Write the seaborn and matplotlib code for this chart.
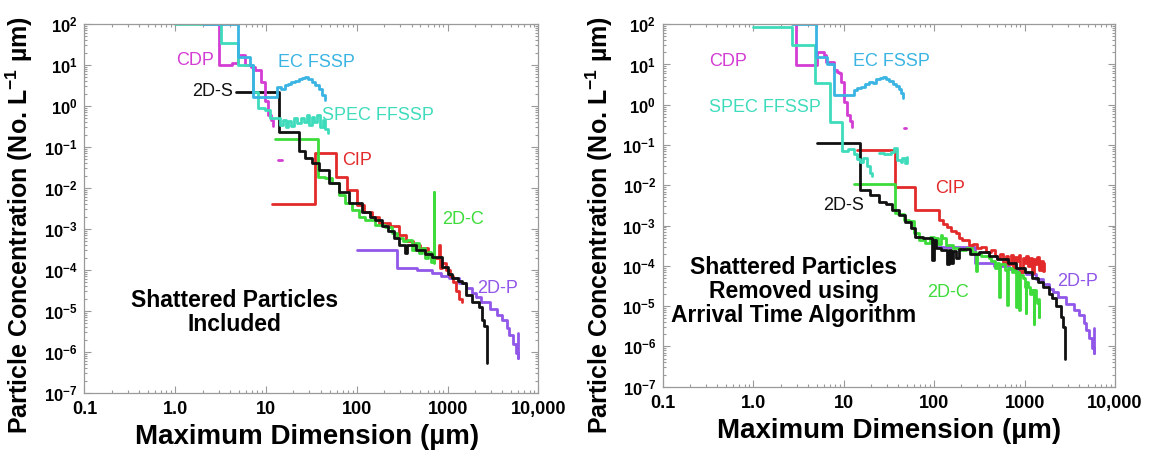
import numpy as np
import matplotlib
matplotlib.use("Agg")
import matplotlib.pyplot as plt
from matplotlib.ticker import FixedLocator, FixedFormatter, LogLocator, NullFormatter
import seaborn as sns

# ---- values (size in um, concentration in No. L-1 um-1) ----
# left panel : shattered particles included
cdp_l_x = [3.0, 3.0, 4.2, 4.9, 5.9, 6.8, 7.5, 8.9, 9.7, 10.6, 11.3, 12.0]
cdp_l_y = [100, 10, 11, 18, 10, 9, 7.6, 3.9, 1.3, 0.6, 0.45, 0.32]
cdp_l_dash_x = [13.5, 15.0]
cdp_l_dash_y = [0.048, 0.048]

ec_l_x = [2.0, 4.9, 6.7, 7.2, 13.1, 14.5, 16, 17.5, 19, 21, 23, 25, 27, 29, 32, 35, 38, 41, 45]
ec_l_y = [100, 16, 10, 1.7, 2.9, 2.6, 3.2, 3.4, 3.8, 4.0, 4.6, 4.9, 5.2, 4.5, 3.8, 3.2, 2.6, 1.9, 1.4]

spec_l_x = [1.0, 3.2, 4.9, 6.7, 7.2, 8.2, 9.7, 11, 14.2, 15.5, 16.5, 17.5, 19, 20.5, 22,
            24, 26, 28, 30, 32, 34, 36, 39, 42, 45, 48]
spec_l_y = [100, 35, 10, 10, 2.2, 0.88, 0.8, 0.5, 0.35, 0.45, 0.3, 0.42, 0.33, 0.5, 0.38,
            0.52, 0.4, 0.6, 0.35, 0.55, 0.4, 0.6, 0.3, 0.45, 0.28, 0.22]

s2d_l_x = [4.7, 14, 23, 27, 32, 38, 49, 63, 81, 114, 140, 160, 190, 223, 255, 290, 340, 355,
           450, 560, 680, 870, 1000, 1120, 1300, 1450, 1580, 1870, 2220, 2420, 2500, 2740]
s2d_l_y = [2.16, 0.23, 0.078, 0.054, 0.04, 0.027, 0.013, 0.0082, 0.0042, 0.0026, 0.002,
           0.0017, 0.0012, 0.0009, 0.0006, 0.0004, 0.00026, 0.0004, 0.0003, 0.00025, 0.00021,
           0.00012, 8e-5, 6.3e-5, 5.5e-5, 4.8e-5, 2.4e-5, 1.7e-5, 1.27e-5, 6e-6, 4.2e-6, 5.4e-7]

g2d_l_x = [12.5, 37, 45, 53, 63, 74, 89, 105, 124, 160, 206, 245, 280, 320, 360, 400, 440,
           480, 520, 570, 610, 650, 705, 712]
g2d_l_y = [0.16, 0.019, 0.0174, 0.013, 0.0068, 0.0043, 0.0029, 0.002, 0.00166, 0.00125,
           0.00115, 0.0008, 0.0006, 0.0005, 0.00055, 0.0003, 0.00045, 0.00026, 0.00035, 0.0002,
           0.00028, 0.00016, 0.008, 0.00015]

cip_l_x = [11.5, 35, 59, 77.6, 100, 119, 148, 175, 230, 290, 350, 420, 500, 600, 700, 800,
           815, 870, 950, 1050, 1150, 1250, 1350, 1450]
cip_l_y = [0.0041, 0.07, 0.019, 0.0089, 0.0039, 0.0026, 0.002, 0.0014, 0.0012, 0.0007, 0.0005,
           0.0004, 0.00035, 0.00025, 0.0002, 0.0004, 0.00011, 0.00015, 0.0001, 7e-5, 5e-5, 3e-5,
           2e-5, 1.7e-5]

# 2D-P is the same in both panels
p2d_x = [100, 280, 463, 680, 850, 1036, 1335, 1580, 1860, 2050, 2330, 2900, 3500, 4000,
         4500, 4800, 5200, 5600, 5900, 5900]
p2d_y = [0.0003, 0.000115, 1e-4, 8.3e-5, 7.2e-5, 6.3e-5, 4.8e-5, 3.6e-5, 2.7e-5, 2.2e-5,
         1.7e-5, 1.1e-5, 8e-6, 6e-6, 3.8e-6, 2.6e-6, 1.6e-6, 9.3e-7, 7e-7, 2.9e-6]

# right panel : shattered particles removed
cdp_r_x = [2.94, 2.94, 4.3, 5.0, 6.0, 6.3, 7.4, 7.8, 8.4, 8.9, 9.2, 10, 10.9, 11.6, 12.4]
cdp_r_y = [100, 9.6, 9.6, 20, 17, 11.6, 11.6, 7.2, 6.5, 6, 3.7, 1.17, 0.55, 0.4, 0.28]
cdp_r_dot_x = [46, 48.5]
cdp_r_dot_y = [0.26, 0.26]

ec_r_x = [2.7, 4.9, 6.5, 7.8, 13, 14, 15.5, 17, 19, 21, 23, 25, 27, 29, 32, 35, 38, 41, 43, 45]
ec_r_y = [100, 15.5, 10, 1.74, 2.3, 2.6, 2.8, 3.2, 3.6, 3.4, 4.3, 4.6, 4.9, 4.4, 3.8, 3.2,
          3.0, 2.5, 2.0, 1.43]

spec_r1_x = [1.0, 2.7, 4.8, 7.0, 9.6, 11, 13, 14, 15, 16.5, 18, 19.5, 20.5]
spec_r1_y = [85, 30, 3.4, 0.38, 0.07, 0.08, 0.06, 0.045, 0.038, 0.047, 0.03, 0.02, 0.017]
spec_r2_x = [24.5, 28, 33, 36, 39, 42.5, 44, 48, 50]
spec_r2_y = [0.062, 0.06, 0.068, 0.083, 0.042, 0.039, 0.047, 0.035, 0.05]

s2d_r_x = [5.0, 15.1, 19.4, 24.5, 29, 34, 41, 48, 55, 62, 75, 95, 99, 105, 120, 140, 146,
           155, 162, 175, 190, 250, 310, 400, 500, 650, 800, 1000, 1200, 1400, 1600, 1850,
           2000, 2250, 2500, 2650, 2780]
s2d_r_y = [0.115, 0.0076, 0.0058, 0.0039, 0.0035, 0.0024, 0.0018, 0.00125, 0.00085, 0.00052,
           0.00048, 0.00014, 0.00045, 0.00028, 0.00025, 0.00011, 0.00025, 0.00012, 0.00024,
           0.00016, 0.00026, 0.0002, 0.00022, 0.00018, 0.00015, 0.00012, 9e-5, 7e-5, 5e-5,
           4e-5, 3e-5, 2e-5, 1.6e-5, 1e-5, 5.5e-6, 3e-6, 5e-7]

g2d_r_x = [13, 37, 40, 46, 52, 60, 68, 80, 90, 100, 110, 118, 122, 135, 160, 190, 225, 260,
           290, 300, 330, 400, 430, 470, 500, 520, 530, 600, 645, 660, 720, 760, 800, 815,
           870, 885, 950, 1000, 1030, 1045, 1100, 1150, 1200, 1260, 1280, 1330, 1380, 1440, 1460]
g2d_r_y = [0.011, 0.002, 0.0019, 0.0014, 0.0013, 0.00065, 0.00044, 0.00036, 0.00053, 0.0005,
           0.00035, 0.0006, 0.0005, 0.00033, 0.00028, 0.00025, 0.00028, 0.00022, 7.5e-5,
           0.0002, 0.00018, 0.00016, 0.00013, 9e-5, 0.00012, 1.7e-5, 0.00011, 8e-5, 1.07e-5,
           9e-5, 7e-5, 8e-5, 9.5e-6, 7e-5, 8e-6, 6e-5, 5e-5, 3e-5, 6.6e-6, 4e-5, 3e-5, 2e-5,
           2.5e-5, 3.7e-6, 2.5e-5, 1.5e-5, 1.2e-5, 5.5e-6, 1.5e-5]

cip_r_x = [14, 37, 62, 112, 125, 138, 155, 173, 190, 204, 225, 243, 270, 300, 330, 370, 420,
           470, 500, 540, 580, 620, 660, 700, 740, 780, 820, 860, 900, 950, 1000, 1050, 1100,
           1150, 1200, 1260, 1320, 1380, 1450, 1520, 1600, 1630]
cip_r_y = [0.074, 0.0092, 0.0024, 0.0014, 0.0011, 0.00093, 0.00075, 0.00065, 0.0005, 0.00044,
           0.00045, 0.00033, 0.00035, 0.00028, 0.0003, 0.00022, 0.00025, 0.00018, 0.00016,
           0.0002, 0.00012, 0.00018, 0.00011, 0.00019, 8e-5, 0.00017, 0.00013, 0.00019, 7e-5,
           0.00016, 0.00012, 0.00018, 0.0001, 0.00016, 6.5e-5, 0.00015, 0.00011, 0.00017,
           8e-5, 0.00013, 7.5e-5, 0.00012]

xticks = [0.1, 1, 10, 100, 1000, 10000]
xtick_labels = ["0.1", "1.0", "10", "100", "1000", "10,000"]
yticks = [10.0 ** e for e in range(-7, 3)]
ytick_labels = [r"$\mathbf{10^{%d}}$" % e for e in range(-7, 3)]

C_CDP = "#d43dd4"
C_EC = "#3ab4e2"
C_SPEC = "#3fdcbc"
C_2DS = "#111111"
C_CIP = "#e32a2a"
C_2DC = "#3ddc3a"
C_2DP = "#9157e8"

sns.set_theme(style="ticks")
plt.rcParams["font.family"] = ["Liberation Sans", "DejaVu Sans"]
plt.rcParams["mathtext.fontset"] = "custom"
plt.rcParams["mathtext.rm"] = "Liberation Sans"
plt.rcParams["mathtext.bf"] = "Liberation Sans:bold"
plt.rcParams["text.color"] = "black"
plt.rcParams["axes.labelcolor"] = "black"
plt.rcParams["xtick.labelcolor"] = "black"
plt.rcParams["ytick.labelcolor"] = "black"

fig = plt.figure(figsize=(11.51, 4.59), dpi=100)
axL = fig.add_axes([0.0734, 0.1438, 0.3944, 0.8039])
axR = fig.add_axes([0.5760, 0.1575, 0.3927, 0.7898])

YLABEL = "Particle Concentration (No. L$^{\\mathbf{-1}}$ \u00b5m)"
XLABEL = "Maximum Dimension (\u00b5m)"


def step(ax, x, y, c):
    sns.lineplot(x=x, y=y, ax=ax, color=c, lw=2, drawstyle="steps-post",
                 estimator=None, sort=False, legend=False)


def style(ax):
    ax.set_xscale("log")
    ax.set_yscale("log")
    ax.set_xlim(0.1, 1e4)
    ax.set_ylim(1e-7, 1e2)
    ax.xaxis.set_major_locator(FixedLocator(xticks))
    ax.xaxis.set_major_formatter(FixedFormatter(xtick_labels))
    ax.xaxis.set_minor_locator(LogLocator(base=10, subs=np.arange(2, 10), numticks=20))
    ax.xaxis.set_minor_formatter(NullFormatter())
    ax.yaxis.set_major_locator(FixedLocator(yticks))
    ax.yaxis.set_major_formatter(FixedFormatter(ytick_labels))
    ax.yaxis.set_minor_locator(LogLocator(base=10, subs=np.arange(2, 10), numticks=20))
    ax.yaxis.set_minor_formatter(NullFormatter())
    ax.tick_params(which="both", direction="in", top=True, right=True,
                   color="#9a9a9a", width=0.8, labelcolor="black")
    ax.tick_params(which="major", length=5)
    ax.tick_params(which="minor", length=2.5)
    ax.tick_params(axis="x", which="major", labelsize=13, pad=6)
    ax.tick_params(axis="y", which="major", labelsize=12, pad=5)
    for lab in ax.get_xticklabels():
        lab.set_fontweight("bold")
    for s in ax.spines.values():
        s.set_color("#9a9a9a")
        s.set_linewidth(0.9)
    ax.set_xlabel(XLABEL, fontsize=20, fontweight="bold")
    ax.set_ylabel(YLABEL, fontsize=18, fontweight="bold")


# left panel
step(axL, p2d_x, p2d_y, C_2DP)
step(axL, cip_l_x, cip_l_y, C_CIP)
step(axL, g2d_l_x, g2d_l_y, C_2DC)
step(axL, s2d_l_x, s2d_l_y, C_2DS)
step(axL, cdp_l_x, cdp_l_y, C_CDP)
step(axL, cdp_l_dash_x, cdp_l_dash_y, C_CDP)
step(axL, spec_l_x, spec_l_y, C_SPEC)
step(axL, ec_l_x, ec_l_y, C_EC)
style(axL)
axL.xaxis.set_label_coords(0.49, -0.085)
axL.yaxis.set_label_coords(-0.108, 0.455)

fs = 13
axL.text(1.65, 13, "CDP", color=C_CDP, fontsize=fs, ha="center", va="center")
axL.text(13.5, 11.2, "EC FSSP", color=C_EC, fontsize=fs, ha="left", va="center")
axL.text(4.3, 2.3, "2D-S", color=C_2DS, fontsize=fs, ha="right", va="center")
axL.text(41, 0.58, "SPEC FFSSP", color=C_SPEC, fontsize=fs, ha="left", va="center")
axL.text(68, 0.047, "CIP", color=C_CIP, fontsize=fs, ha="left", va="center")
axL.text(875, 0.00166, "2D-C", color=C_2DC, fontsize=fs, ha="left", va="center")
axL.text(2100, 3.6e-5, "2D-P", color=C_2DP, fontsize=fs, ha="left", va="center")
axL.text(0.331, 0.217, "Shattered Particles\nIncluded", transform=axL.transAxes,
         ha="center", va="center", fontsize=16.5, fontweight="bold", linespacing=1.05)

# right panel
step(axR, p2d_x, p2d_y, C_2DP)
step(axR, cip_r_x, cip_r_y, C_CIP)
step(axR, g2d_r_x, g2d_r_y, C_2DC)
step(axR, s2d_r_x, s2d_r_y, C_2DS)
step(axR, cdp_r_x, cdp_r_y, C_CDP)
step(axR, cdp_r_dot_x, cdp_r_dot_y, C_CDP)
step(axR, spec_r1_x, spec_r1_y, C_SPEC)
step(axR, spec_r2_x, spec_r2_y, C_SPEC)
step(axR, ec_r_x, ec_r_y, C_EC)
style(axR)
axR.xaxis.set_label_coords(0.5, -0.085)
axR.yaxis.set_label_coords(-0.106, 0.446)

axR.text(0.52, 12, "CDP", color=C_CDP, fontsize=fs, ha="center", va="center")
axR.text(12.6, 12, "EC FSSP", color=C_EC, fontsize=fs, ha="left", va="center")
axR.text(1.34, 0.87, "SPEC FFSSP", color=C_SPEC, fontsize=fs, ha="center", va="center")
axR.text(102, 0.0085, "CIP", color=C_CIP, fontsize=fs, ha="left", va="center")
axR.text(5.9, 0.0032, "2D-S", color=C_2DS, fontsize=fs, ha="left", va="center")
axR.text(83, 2.2e-5, "2D-C", color=C_2DC, fontsize=fs, ha="left", va="center")
axR.text(2300, 4.2e-5, "2D-P", color=C_2DP, fontsize=fs, ha="left", va="center")
axR.text(0.29, 0.262, "Shattered Particles\nRemoved using\nArrival Time Algorithm",
         transform=axR.transAxes, ha="center", va="center", fontsize=16.5,
         fontweight="bold", linespacing=1.05)

fig.savefig("out.png", dpi=100)
